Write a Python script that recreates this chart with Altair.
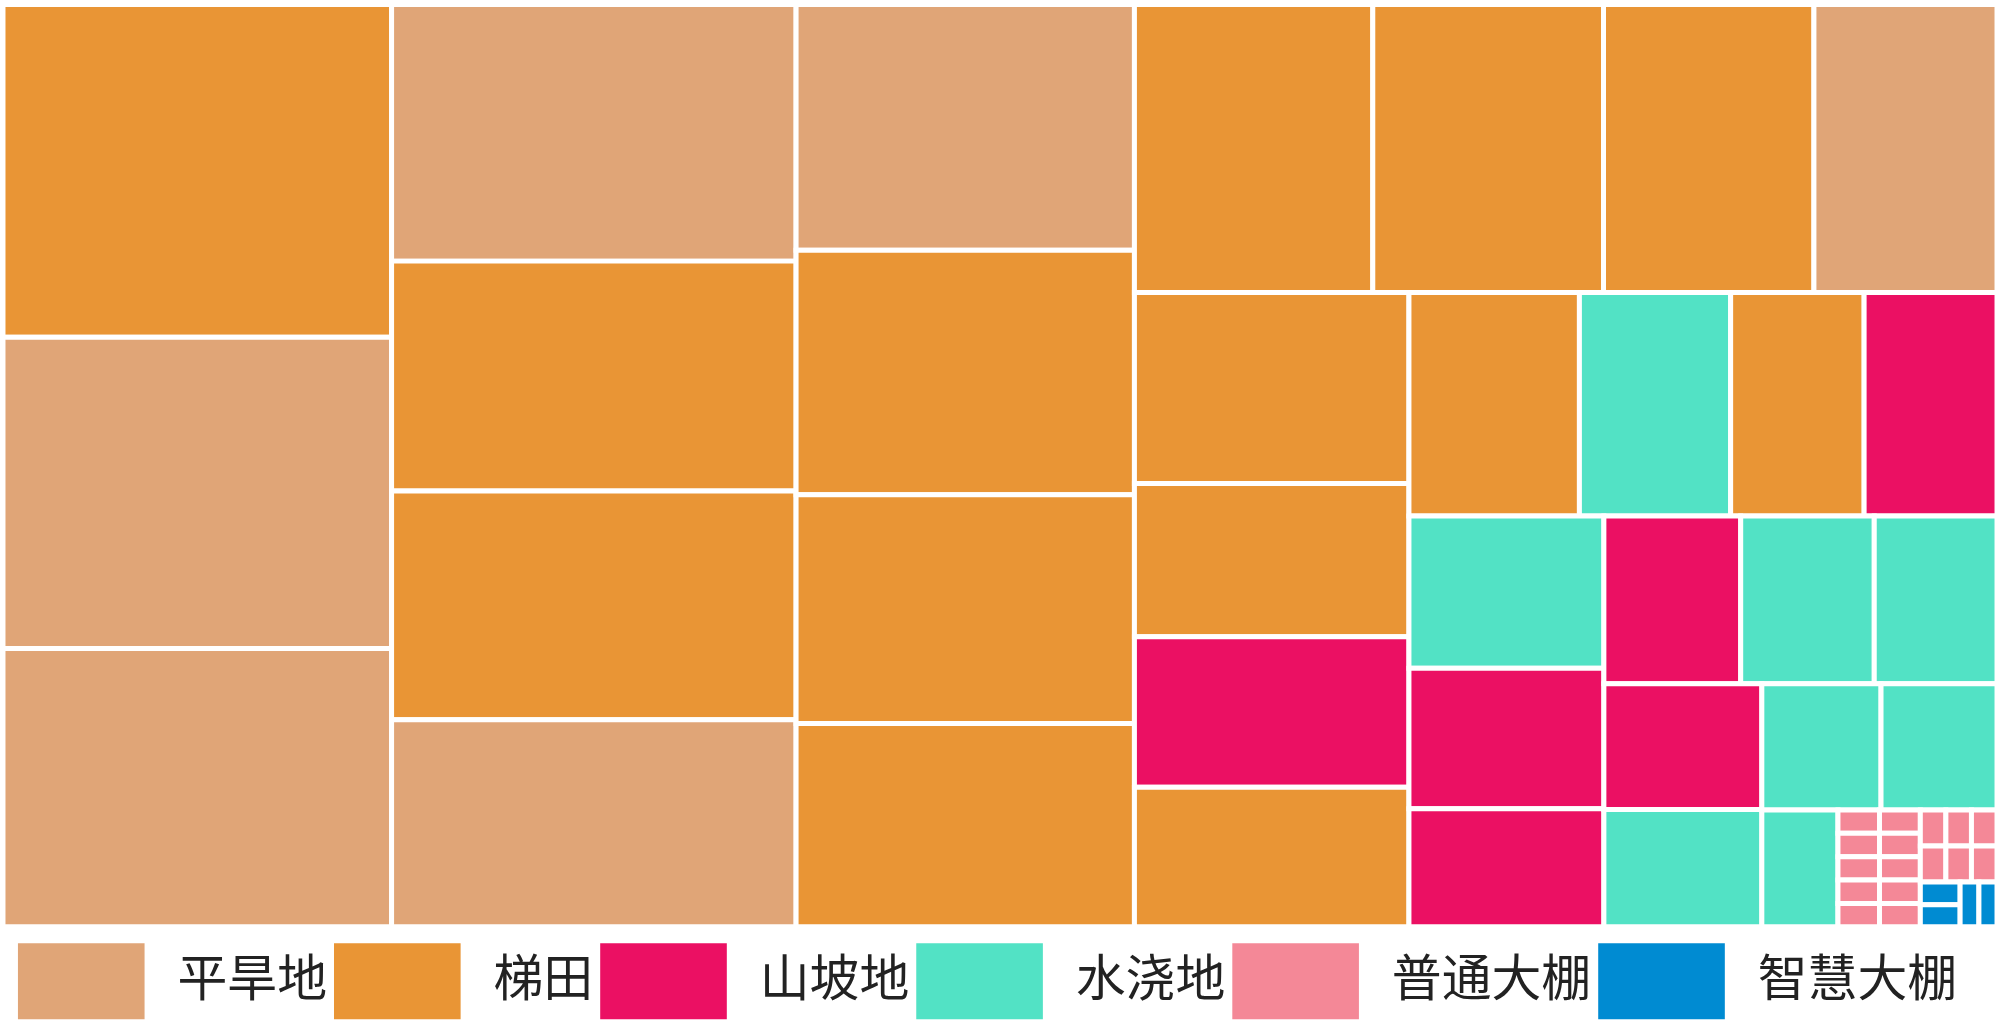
import altair as alt
import pandas as pd

# Land-use categories and their colours
LAND_TYPES = ["平旱地", "梯田", "山坡地", "水浇地", "普通大棚", "智慧大棚"]
LAND_COLORS = ["#E0A577", "#E99535", "#EB1063", "#52E2C5", "#F48897", "#008BD2"]

# One entry per plot: land type and area (sorted from largest to smallest)
plot_type = [
    "梯田", "平旱地", "平旱地",
    "平旱地", "梯田", "梯田", "平旱地",
    "平旱地", "梯田", "梯田", "梯田",
    "梯田", "梯田", "梯田", "平旱地",
    "梯田", "梯田", "山坡地", "梯田",
    "梯田", "水浇地", "梯田", "山坡地",
    "水浇地", "山坡地", "山坡地",
    "山坡地", "水浇地", "水浇地",
    "山坡地", "水浇地",
    "水浇地", "水浇地",
    "水浇地",
    "普通大棚", "普通大棚", "普通大棚", "普通大棚", "普通大棚",
    "普通大棚", "普通大棚", "普通大棚", "普通大棚", "普通大棚",
    "普通大棚", "普通大棚", "普通大棚", "普通大棚", "普通大棚", "普通大棚",
    "智慧大棚", "智慧大棚", "智慧大棚", "智慧大棚",
]
plot_area = [
    800.4, 748.5, 669.1,
    642.4, 575.6, 572.4, 518.3,
    514.7, 512.1, 478.8, 425.6,
    424.7, 411.1, 374.9, 326.2,
    324.7, 260.2, 255.9, 237.0,
    236.0, 209.4, 184.8, 184.0,
    183.5, 169.4, 142.5,
    142.0, 138.6, 127.4,
    122.8, 114.7,
    93.1, 90.6,
    55.0,
    6.0, 6.0, 6.0, 6.0, 6.0,
    5.9, 5.9, 5.9, 5.9, 5.9,
    5.7, 5.7, 5.7, 5.7, 5.7, 5.7,
    5.6, 5.4, 5.2, 5.0,
]

W, H = 2000, 925
PHI = (1 + 5 ** 0.5) / 2


def squarify(values, x0, y0, x1, y1, ratio=PHI):
    """Squarified treemap tiling (same rules as d3.treemapSquarify)."""
    rects = []
    n = len(values)
    i0 = i1 = 0
    value = float(sum(values))
    while i0 < n:
        dx, dy = x1 - x0, y1 - y0
        sum_v = values[i1]
        i1 += 1
        min_v = max_v = sum_v
        alpha = max(dy / dx, dx / dy) / (value * ratio)
        beta = sum_v * sum_v * alpha
        min_ratio = max(max_v / beta, beta / min_v)
        while i1 < n:
            v = values[i1]
            s = sum_v + v
            mn, mx = min(min_v, v), max(max_v, v)
            beta = s * s * alpha
            new_ratio = max(mx / beta, beta / mn)
            if new_ratio > min_ratio:
                break
            sum_v, min_v, max_v, min_ratio = s, mn, mx, new_ratio
            i1 += 1
        row = values[i0:i1]
        if dx < dy:
            # lay the row across the top
            ny = y0 + dy * sum_v / value
            cx = x0
            for v in row:
                w = (x1 - x0) * v / sum_v
                rects.append((cx, y0, cx + w, ny))
                cx += w
            y0 = ny
        else:
            # stack the row down the left side
            nx = x0 + dx * sum_v / value
            cy = y0
            for v in row:
                h = (y1 - y0) * v / sum_v
                rects.append((x0, cy, nx, cy + h))
                cy += h
            x0 = nx
        value -= sum_v
        i0 = i1
    return rects


tiles = squarify(plot_area, 0, 0, W, H)
df = pd.DataFrame(
    {
        "type": plot_type,
        "area": plot_area,
        "x0": [r[0] for r in tiles],
        "y0": [r[1] for r in tiles],
        "x1": [r[2] for r in tiles],
        "y1": [r[3] for r in tiles],
    }
)

# wide legend swatch: a rectangle 2 units wide and 1.2 units tall
SWATCH = "M-1,-0.6H1V0.6H-1Z"

chart = (
    alt.Chart(df)
    .mark_rect(stroke="white", strokeWidth=5)
    .encode(
        x=alt.X("x0:Q", scale=alt.Scale(domain=[0, W], nice=False, zero=False), axis=None),
        x2="x1:Q",
        y=alt.Y("y0:Q", scale=alt.Scale(domain=[0, H], nice=False, zero=False, reverse=True), axis=None),
        y2="y1:Q",
        color=alt.Color(
            "type:N",
            scale=alt.Scale(domain=LAND_TYPES, range=LAND_COLORS),
            legend=alt.Legend(
                title=None,
                orient="none",
                legendX=15,
                legendY=916,
                direction="horizontal",
                columns=6,
                symbolType=SWATCH,
                symbolSize=127 * 127,
                symbolStrokeWidth=0,
                symbolOpacity=1,
                labelFont="Noto Sans CJK SC",
                labelFontSize=50,
                labelColor="#222222",
                labelOffset=33,
                labelLimit=400,
                columnPadding=7,
            ),
        ),
        tooltip=["type:N", "area:Q"],
    )
    .properties(width=W, height=H, padding=0)
    .configure_view(stroke=None)
)

chart.save("out.html", embed_options={"renderer": "svg", "actions": False})
